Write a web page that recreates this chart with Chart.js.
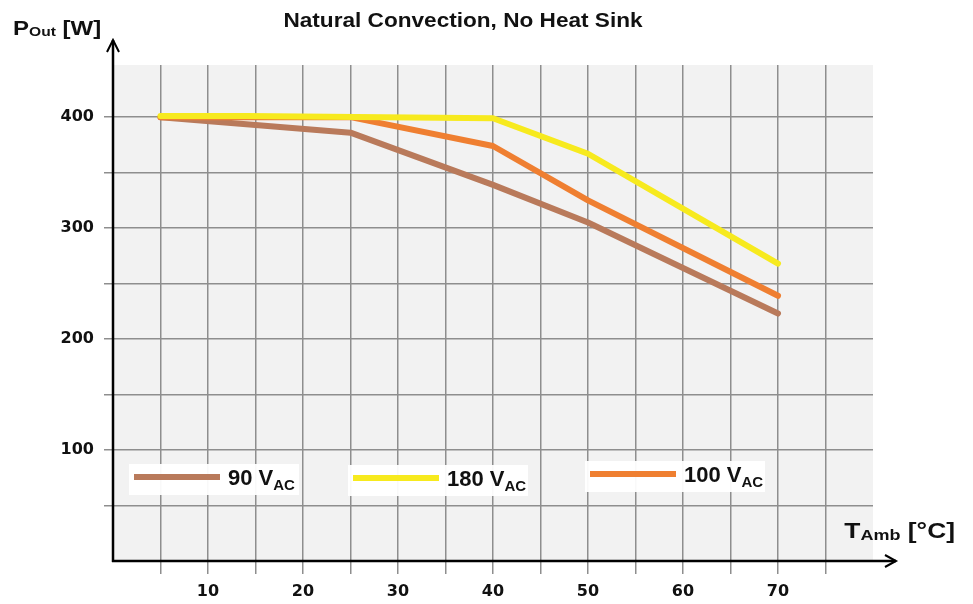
<!DOCTYPE html>
<html lang="en">
<head>
<meta charset="UTF-8">
<title>Natural Convection, No Heat Sink</title>
<script src="https://cdn.jsdelivr.net/npm/chart.js"></script>
<style>
    html, body { margin: 0; padding: 0; background: #fff; }
</style>
</head>
<body>
<canvas id="derating" width="973" height="604"></canvas>

<script>
// ambient temperature (°C) vs. output power (W)
var temps90  = [5, 25, 40, 50, 70];
var power90  = [400, 386, 339, 305, 223];
var temps180 = [5, 14, 40, 50, 70];
var power180 = [401, 401, 399, 367, 268];
var temps100 = [5, 25, 40, 50, 70];
var power100 = [400, 400, 374, 325, 239];

var seriesNames  = ['90 V', '180 V', '100 V'];
var seriesSub    = ['AC', 'AC', 'AC'];
var seriesColors = ['#b97a5b', '#f7ea1e', '#ef7f31'];

var xTicks = [5, 10, 15, 20, 25, 30, 35, 40, 45, 50, 55, 60, 65, 70, 75];
var yTicks = [50, 100, 150, 200, 250, 300, 350, 400];

function toPoints(xs, ys) {
    return xs.map(function (x, i) { return { x: x, y: ys[i] }; });
}

// text with a subscript part, optionally stretched wider like the original scan
function drawRich(ctx, x, y, parts, stretch, align) {
    ctx.save();
    var total = 0;
    parts.forEach(function (p) {
        ctx.font = 'bold ' + p.size + 'px "Liberation Sans", Arial, sans-serif';
        p.w = ctx.measureText(p.t).width;
        total += p.w;
    });
    var startX = align === 'right' ? x - total * stretch : x;
    ctx.translate(startX, y);
    ctx.scale(stretch, 1);
    ctx.fillStyle = '#111';
    ctx.textBaseline = 'alphabetic';
    ctx.textAlign = 'left';
    var cx = 0;
    parts.forEach(function (p) {
        ctx.font = 'bold ' + p.size + 'px "Liberation Sans", Arial, sans-serif';
        ctx.fillText(p.t, cx, p.dy || 0);
        cx += p.w;
    });
    ctx.restore();
}

var decor = {
    id: 'decor',
    beforeDraw: function (chart) {
        var ctx = chart.ctx, a = chart.chartArea;
        ctx.save();
        ctx.fillStyle = '#ffffff';
        ctx.fillRect(0, 0, chart.width, chart.height);
        ctx.fillStyle = '#f2f2f2';
        ctx.fillRect(a.left, a.top, a.right - a.left, a.bottom - a.top);
        ctx.restore();
    },
    afterDraw: function (chart) {
        var ctx = chart.ctx, a = chart.chartArea;
        ctx.save();

        // axes with arrow heads
        ctx.strokeStyle = '#000';
        ctx.lineWidth = 2.5;
        ctx.beginPath();
        ctx.moveTo(a.left, a.bottom + 1);
        ctx.lineTo(a.left, 40);
        ctx.moveTo(a.left - 1, a.bottom);
        ctx.lineTo(896, a.bottom);
        ctx.stroke();
        ctx.lineWidth = 2;
        ctx.beginPath();
        ctx.moveTo(a.left - 6, 52);
        ctx.lineTo(a.left, 40);
        ctx.lineTo(a.left + 6, 52);
        ctx.moveTo(885, a.bottom - 6);
        ctx.lineTo(896, a.bottom);
        ctx.lineTo(885, a.bottom + 6);
        ctx.stroke();

        // legend boxes
        var boxes = [
            { x: 129, y: 464, w: 170, h: 31 },
            { x: 348, y: 465, w: 180, h: 31 },
            { x: 585, y: 461, w: 180, h: 31 }
        ];
        boxes.forEach(function (b, i) {
            ctx.fillStyle = 'rgba(255,255,255,0.95)';
            ctx.fillRect(b.x, b.y, b.w, b.h);
            ctx.strokeStyle = seriesColors[i];
            ctx.lineWidth = 6;
            ctx.lineCap = 'butt';
            ctx.beginPath();
            ctx.moveTo(b.x + 5, b.y + 13);
            ctx.lineTo(b.x + 91, b.y + 13);
            ctx.stroke();
            drawRich(ctx, b.x + 99, b.y + 21, [
                { t: seriesNames[i], size: 22 },
                { t: seriesSub[i], size: 15, dy: 5 }
            ], 1, 'left');
        });
        ctx.restore();

        // title and axis names
        ctx.save();
        ctx.font = 'bold 20px "Liberation Sans", Arial, sans-serif';
        ctx.fillStyle = '#111';
        ctx.textAlign = 'center';
        ctx.translate(463, 27);
        ctx.scale(1.13, 1);
        ctx.fillText('Natural Convection, No Heat Sink', 0, 0);
        ctx.restore();

        drawRich(ctx, 13, 35, [
            { t: 'P', size: 20 },
            { t: 'Out', size: 13, dy: 1 },
            { t: ' [W]', size: 20 }
        ], 1.2, 'left');
        drawRich(ctx, 955, 538, [
            { t: 'T', size: 22 },
            { t: 'Amb', size: 15, dy: 2 },
            { t: ' [°C]', size: 22 }
        ], 1.2, 'right');
    }
};

var tickFont = { family: 'DejaVu Sans', weight: 'bold', size: 16 };

new Chart(document.getElementById('derating').getContext('2d'), {
    type: 'line',
    data: {
        datasets: [
            {
                label: seriesNames[0] + seriesSub[0],
                data: toPoints(temps90, power90),
                borderColor: seriesColors[0],
                order: 3
            },
            {
                label: seriesNames[1] + seriesSub[1],
                data: toPoints(temps180, power180),
                borderColor: seriesColors[1],
                order: 1
            },
            {
                label: seriesNames[2] + seriesSub[2],
                data: toPoints(temps100, power100),
                borderColor: seriesColors[2],
                order: 2
            }
        ]
    },
    options: {
        responsive: false,
        animation: false,
        layout: { padding: { top: 65, right: 100, left: 0, bottom: 0 } },
        elements: {
            line: { borderWidth: 6, tension: 0, fill: false, borderCapStyle: 'round', borderJoinStyle: 'round' },
            point: { radius: 0 }
        },
        plugins: {
            legend: { display: false },
            tooltip: { enabled: false }
        },
        scales: {
            x: {
                type: 'linear',
                min: 0,
                max: 80,
                afterBuildTicks: function (s) {
                    s.ticks = xTicks.map(function (v) { return { value: v }; });
                },
                afterFit: function (s) { s.height = 43; },
                border: { display: false },
                grid: { color: '#8e8e8e', lineWidth: 1.5, tickLength: 13 },
                ticks: {
                    autoSkip: false,
                    maxRotation: 0,
                    padding: 8,
                    color: '#111',
                    font: tickFont,
                    callback: function (v) { return v % 10 === 0 ? v : ''; }
                }
            },
            y: {
                type: 'linear',
                min: 0,
                max: 447,
                afterBuildTicks: function (s) {
                    s.ticks = yTicks.map(function (v) { return { value: v }; });
                },
                afterFit: function (s) { s.width = 113; },
                border: { display: false },
                grid: { color: '#8e8e8e', lineWidth: 1.5, tickLength: 9 },
                ticks: {
                    padding: 10,
                    color: '#111',
                    font: tickFont,
                    callback: function (v) { return v % 100 === 0 ? v : ''; }
                }
            }
        }
    },
    plugins: [decor]
});
</script>
</body>
</html>
